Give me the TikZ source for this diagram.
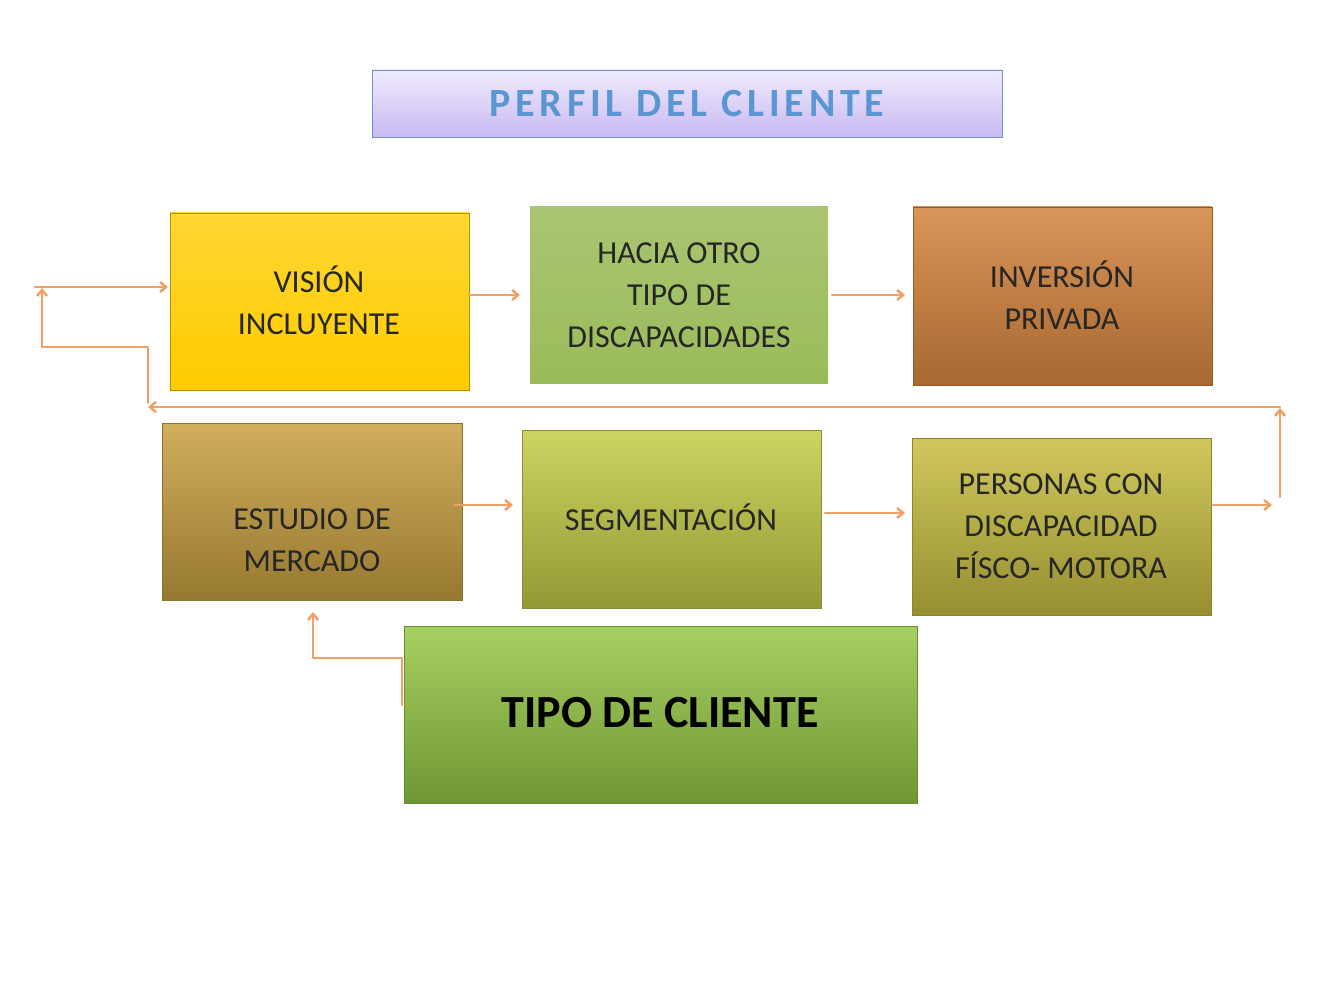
\documentclass[tikz,border=0pt]{standalone}
\usepackage{fontspec}
\setmainfont{Carlito}
\begin{document}
\begin{tikzpicture}[x=1pt,y=-1pt,
  box/.style={draw=#1!70!black,line width=0.6pt},
  lbl/.style={align=center,font=\fontsize{32}{42}\selectfont,text=black!85},
  con/.style={draw={rgb,255:red,240;green,160;blue,100},line width=2.5pt,line cap=round,line join=round},
  arr/.style={con,-{Straight Barb[length=6pt,width=10pt]}}]
\usetikzlibrary{arrows.meta}
\useasboundingbox (0,0) rectangle (1344,1008);
\definecolor{yel}{RGB}{255,204,0}
\definecolor{grn}{RGB}{155,187,89}
\definecolor{org}{RGB}{210,130,60}
\definecolor{gold}{RGB}{200,160,64}
\definecolor{lime}{RGB}{195,205,70}
\definecolor{olive}{RGB}{200,190,64}
\definecolor{tgrn}{RGB}{150,200,70}
% title
\shade[top color={rgb,255:red,240;green,235;blue,255},bottom color={rgb,255:red,200;green,185;blue,240},draw={rgb,255:red,120;green,140;blue,200}] (372,70) rectangle (1002,137);
\node (title) at (687,104) {\fontsize{40}{44}\selectfont\bfseries\addfontfeature{LetterSpace=12}\textcolor[RGB]{90,150,210}{PERFIL DEL CLIENTE}};
% boxes
\shade[top color=yel!80!white,bottom color=yel] (170,213) rectangle (469,390); \draw[box=yel] (170,213) rectangle (469,390);
\node[lbl] (vis) at (319,300) {VISIÓN\\INCLUYENTE};
\draw[white,line width=3pt] (530,207) rectangle (828,383);
\shade[top color=grn!85!white,bottom color=grn] (530,207) rectangle (828,383);
\node[lbl] (hac) at (679,295) {HACIA OTRO\\TIPO DE\\DISCAPACIDADES};
\shade[top color=org!85!white,bottom color=org!80!black] (913,207) rectangle (1212,385); \draw[box=org] (913,207) rectangle (1212,385);
\node[lbl] (inv) at (1062,295) {INVERSIÓN\\PRIVADA};
\shade[top color=gold!85!white,bottom color=gold!75!black] (162,423) rectangle (462,600); \draw[box=gold] (162,423) rectangle (462,600);
\node[lbl] (est) at (312,540) {ESTUDIO DE\\MERCADO};
\shade[top color=lime!85!white,bottom color=lime!75!black] (522,430) rectangle (821,608); \draw[box=lime] (522,430) rectangle (821,608);
\node[lbl] (seg) at (671,517) {SEGMENTACIÓN};
\shade[top color=olive!85!white,bottom color=olive!75!black] (912,438) rectangle (1211,615); \draw[box=olive] (912,438) rectangle (1211,615);
\node[lbl] (per) at (1061,526) {PERSONAS CON\\DISCAPACIDAD\\FÍSCO- MOTORA};
\shade[top color=tgrn!85!white,bottom color=tgrn!75!black] (404,626) rectangle (917,803); \draw[box=tgrn] (404,626) rectangle (917,803);
\node[font=\fontsize{46}{50}\selectfont\bfseries] (tip) at (660,713) {TIPO DE CLIENTE};
% connectors
\draw[arr] (469,295) -- (520,295);
\draw[arr] (832,295) -- (905,295);
\draw[arr] (455,505) -- (513,505);
\draw[arr] (825,513) -- (905,513);
\draw[arr] (1213,505) -- (1272,505);
\draw[arr] (1280,497) -- (1280,408);
\draw[arr] (1280,407) -- (148,407);
\draw[con] (148,403) -- (148,347) -- (42,347);
\draw[arr] (42,347) -- (42,288);
\draw[arr] (35,287) -- (168,287);
\draw[arr] (402,705) -- (402,658) -- (313,658) -- (313,612);
\end{tikzpicture}
\end{document}
